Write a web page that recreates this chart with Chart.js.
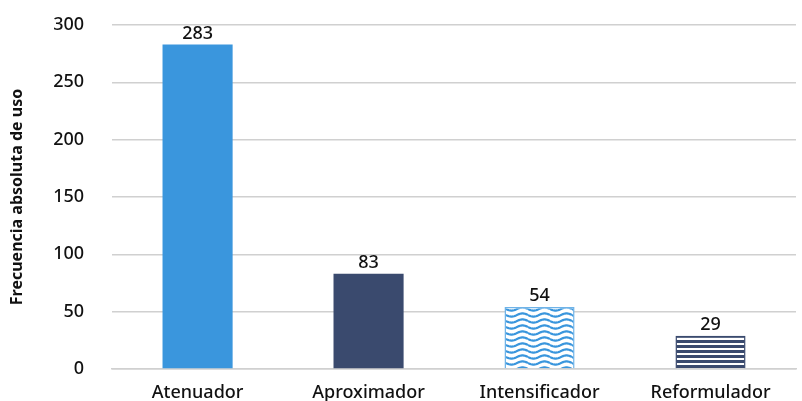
<!DOCTYPE html>
<html>
<head>
<meta charset="utf-8">
<script src="https://cdn.jsdelivr.net/npm/chart.js@4"></script>
<style>
  html, body { margin: 0; padding: 0; background: #fff; }
  #chart { display: block; }
</style>
</head>
<body>
<canvas id="chart" width="802" height="401"></canvas>
<script>
const categories = ["Atenuador", "Aproximador", "Intensificador", "Reformulador"];
const counts = [283, 83, 54, 29];
const yTicks = [0, 50, 100, 150, 200, 250, 300];

// Wavy light-blue fill
function wavePattern() {
  const c = document.createElement("canvas");
  c.width = 22;
  c.height = 6;
  const ctx = c.getContext("2d");
  ctx.fillStyle = "#fff";
  ctx.fillRect(0, 0, 22, 6);
  ctx.strokeStyle = "#3a96dd";
  ctx.lineWidth = 2.2;
  for (const off of [-6, 0, 6]) {
    ctx.beginPath();
    for (let x = 0; x <= 22; x++) {
      const y = 3 + off + 1.6 * Math.sin((x / 22) * Math.PI * 2);
      if (x === 0) ctx.moveTo(x, y);
      else ctx.lineTo(x, y);
    }
    ctx.stroke();
  }
  return ctx.createPattern(c, "repeat");
}

// Horizontal navy stripes
function stripePattern() {
  const c = document.createElement("canvas");
  c.width = 8;
  c.height = 5;
  const ctx = c.getContext("2d");
  ctx.fillStyle = "#fff";
  ctx.fillRect(0, 0, 8, 5);
  ctx.fillStyle = "#3a4a6e";
  ctx.fillRect(0, 0, 8, 3);
  return ctx.createPattern(c, "repeat");
}

const valueLabels = {
  id: "valueLabels",
  afterDatasetsDraw(chart) {
    const { ctx } = chart;
    const meta = chart.getDatasetMeta(0);
    ctx.save();
    ctx.font = "500 18px 'Noto Sans'";
    ctx.fillStyle = "#111";
    ctx.textAlign = "center";
    ctx.textBaseline = "bottom";
    meta.data.forEach((bar, i) => {
      ctx.fillText(String(counts[i]), bar.x, bar.y - 2);
    });
    ctx.restore();
  },
};

new Chart(document.getElementById("chart"), {
  type: "bar",
  data: {
    labels: categories,
    datasets: [
      {
        data: counts,
        backgroundColor: ["#3a96dd", "#3a4a6e", wavePattern(), stripePattern()],
        borderColor: ["#3a96dd", "#3a4a6e", "#6fb3e8", "#3a4a6e"],
        borderWidth: [0, 0, 1.5, 1.5],
        categoryPercentage: 1,
        barPercentage: 0.41,
      },
    ],
  },
  options: {
    responsive: false,
    animation: false,
    layout: { padding: { top: 25, right: 6, bottom: 0, left: 8 } },
    scales: {
      x: {
        grid: { display: false },
        border: { color: "#d0d0d0", width: 1.5 },
        ticks: { color: "#111", font: { family: "'Noto Sans'", size: 18, weight: 500 }, padding: 5 },
        afterFit: (scale) => {
          scale.height = 32;
        },
      },
      y: {
        min: 0,
        max: 300,
        afterBuildTicks: (axis) => {
          axis.ticks = yTicks.map((v) => ({ value: v }));
        },
        afterFit: (scale) => {
          scale.width += 26;
        },
        grid: { color: "#d0d0d0", lineWidth: 1.5, tickLength: 28, tickColor: "transparent" },
        border: { display: false },
        ticks: { color: "#111", font: { family: "'Noto Sans'", size: 18, weight: 500 }, padding: 0 },
        title: {
          display: true,
          text: "Frecuencia absoluta de uso",
          color: "#111",
          font: { family: "'Noto Sans'", size: 16, weight: "bold" },
          padding: { top: 0, bottom: 0 },
        },
      },
    },
    plugins: {
      legend: { display: false },
      tooltip: { enabled: false },
    },
  },
  plugins: [valueLabels],
});
</script>
</body>
</html>
